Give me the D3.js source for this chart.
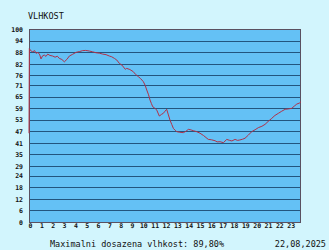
<!DOCTYPE html>
<html>
<head>
<meta charset="utf-8">
<script src="https://cdn.jsdelivr.net/npm/d3@7"></script>
<style>
  body { margin: 0; background: #d2f5fd; }
  svg { display: block; }
  .tick text { font-family: "DejaVu Sans Mono", monospace; font-weight: bold; font-size: 6.5px; fill: #111; }
</style>
</head>
<body>
<svg id="chart" width="329" height="250"></svg>
<script>
var title = "VLHKOST";
var footer = "Maximalni dosazena vlhkost: 89,80%";
var dateLabel = "22,08,2025";

var yTicks = [0, 6, 12, 18, 24, 29, 35, 41, 47, 53, 59, 65, 71, 76, 82, 88, 94, 100];
var xTicks = d3.range(0, 24);

// hodiny a vlhkost
var hours = [0, 0.03, 0.2, 0.33, 0.5, 0.62, 0.8, 0.95, 1.06, 1.2, 1.35, 1.5, 1.65, 1.85, 2.09, 2.3, 2.5, 2.67, 2.9, 3.12,
  3.35, 3.56, 3.85, 4.15, 4.45, 4.74, 5.0, 5.32, 5.6, 5.91, 6.2, 6.5, 6.8, 7.09, 7.3, 7.53, 7.75, 7.97, 8.2, 8.5,
  8.62, 8.9, 9.2, 9.4, 9.65, 9.85, 10.09, 10.25, 10.39, 10.55, 10.68, 10.8, 10.92, 11.1, 11.27, 11.5, 11.7, 11.85, 12.0, 12.15,
  12.3, 12.44, 12.6, 12.74, 12.9, 13.04, 13.3, 13.62, 13.85, 14.06, 14.3, 14.5, 14.8, 15.09, 15.4, 15.82, 16.1, 16.42, 16.6, 16.86,
  17.15, 17.45, 17.7, 17.9, 18.18, 18.4, 18.6, 18.85, 19.06, 19.35, 19.65, 19.95, 20.24, 20.55, 20.83, 21.1, 21.42, 21.7, 22.0, 22.3,
  22.6, 22.9, 23.19, 23.4, 23.63, 23.85, 24.0];

var humidity = [46, 89.8, 88.5, 88.2, 88.8, 87.4, 87.9, 86.6, 84.5, 86.1, 86.5, 85.8, 87.0, 86.3, 86.0, 85.4, 85.9, 84.8, 84.2, 83.0,
  84.3, 86.0, 86.9, 87.9, 88.3, 88.8, 88.9, 88.6, 88.2, 87.7, 87.5, 87.0, 86.7, 86.0, 85.6, 84.8, 83.9, 82.2, 81.3, 79.1,
  79.6, 79.0, 77.9, 76.5, 75.3, 74.3, 72.7, 70.8, 68.4, 65.9, 63.2, 61.4, 59.7, 59.0, 58.0, 54.9, 55.8, 56.3, 57.4, 58.4,
  55.5, 52.8, 50.5, 48.5, 47.5, 46.8, 46.5, 46.3, 47.0, 48.0, 47.7, 47.3, 46.8, 46.0, 44.8, 42.8, 42.6, 42.1, 41.5, 41.6,
  41.1, 42.8, 42.3, 42.0, 42.8, 42.3, 42.5, 42.9, 43.4, 45.0, 46.8, 47.8, 48.9, 49.6, 50.6, 52.1, 53.7, 55.2, 56.3, 57.4,
  58.4, 58.6, 58.9, 60.0, 61.1, 61.6, 62.3];

var plotL = 29, plotR = 301, plotT = 29, plotB = 222;

var svg = d3.select("#chart");

var x = d3.scaleLinear().domain([0, 24]).range([plotL, plotR]);
var y = d3.scaleLinear().domain([0, 100]).range([plotB, plotT]);

svg.append("rect")
   .attr("x", plotL)
   .attr("y", plotT)
   .attr("width", plotR - plotL)
   .attr("height", plotB - plotT)
   .style("fill", "#64c1f5");

// mrizka
svg.append("g")
   .selectAll("line")
   .data(yTicks)
   .enter()
   .append("line")
   .attr("x1", plotL)
   .attr("x2", plotR)
   .attr("y1", function(d){ return Math.round(y(d)) + 0.5 })
   .attr("y2", function(d){ return Math.round(y(d)) + 0.5 })
   .style("stroke", "#22557f")
   .style("stroke-width", 1);

svg.append("rect")
   .attr("x", plotL + 0.5)
   .attr("y", plotT + 0.5)
   .attr("width", plotR - plotL - 1)
   .attr("height", plotB - plotT)
   .style("fill", "none")
   .style("stroke", "#5a5060")
   .style("stroke-width", 1);

var points = hours.map(function(h, i){ return [h, humidity[i]] });

svg.append("path")
   .datum(points)
   .attr("d", d3.line()
                .x(function(d){ return x(d[0]) })
                .y(function(d){ return y(d[1]) }))
   .style("fill", "none")
   .style("stroke", "#b03048")
   .style("stroke-width", 1);

var yAxis = svg.append("g")
   .attr("transform", "translate(" + (plotL - 6) + ",0)")
   .call(d3.axisLeft(y).tickValues(yTicks).tickSize(0).tickPadding(0));
yAxis.select(".domain").remove();
yAxis.selectAll("text").attr("dy", "0.35em");

var xAxis = svg.append("g")
   .attr("transform", "translate(1," + (plotB + 1) + ")")
   .call(d3.axisBottom(x).tickValues(xTicks).tickSize(0).tickPadding(0));
xAxis.select(".domain").remove();
xAxis.selectAll("text").attr("dy", "0.75em");

svg.append("text")
   .attr("x", 28)
   .attr("y", 19)
   .style("font-family", "DejaVu Sans Mono, monospace")
   .style("font-size", "8.5px")
   .style("fill", "#111")
   .text(title);

svg.append("text")
   .attr("x", 50)
   .attr("y", 247)
   .style("font-family", "DejaVu Sans Mono, monospace")
   .style("font-size", "8.5px")
   .style("fill", "#111")
   .text(footer);

svg.append("text")
   .attr("x", 326)
   .attr("y", 247)
   .attr("text-anchor", "end")
   .style("font-family", "DejaVu Sans Mono, monospace")
   .style("font-size", "8.5px")
   .style("fill", "#111")
   .text(dateLabel);
</script>
</body>
</html>
